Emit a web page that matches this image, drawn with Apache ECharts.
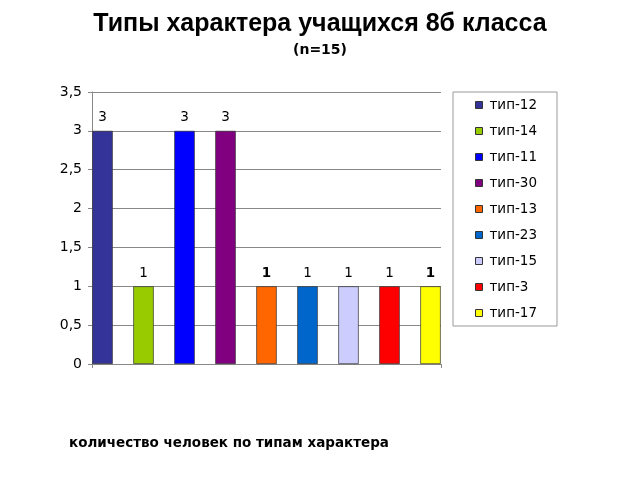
<!DOCTYPE html>
<html><head><meta charset="utf-8">
<script src="https://cdn.jsdelivr.net/npm/echarts@6/dist/echarts.min.js"></script>
<style>html,body{margin:0;padding:0;background:#fff}#c{width:640px;height:480px}</style>
</head><body><div id="c"></div>
<script>
const seriesNames = ['тип-12','тип-14','тип-11','тип-30','тип-13','тип-23','тип-15','тип-3','тип-17'];
const seriesValues = [3,1,3,3,1,1,1,1,1];
const seriesColors = ['#333399','#99CC00','#0000FF','#800080','#FF6600','#0066CC','#CCCCFF','#FF0000','#FFFF00'];
const boldLabel = [false,false,false,false,true,false,false,false,true];
const yTicks = [0,0.5,1,1.5,2,2.5,3,3.5];
const titleText = 'Типы характера учащихся 8б класса';
const subText = '(n=15)';
const xTitle = 'количество человек по типам характера';

const chart = echarts.init(document.getElementById('c'));
const font = 'Arial, "Liberation Sans", sans-serif';
const wide = '"DejaVu Sans", sans-serif';
chart.setOption({
  animation:false,
  backgroundColor:'#fff',
  title:[
    {text:titleText,left:'center',top:7,textStyle:{fontFamily:font,fontSize:25,fontWeight:'bold',color:'#000'}},
    {text:subText,left:'center',top:38,textStyle:{fontFamily:wide,fontSize:14,fontWeight:'bold',color:'#000'}},
    {text:xTitle,left:64,top:431,textStyle:{fontFamily:wide,fontSize:13.5,fontWeight:'bold',color:'#000'}}
  ],
  grid:{left:92,right:199,top:92,bottom:116,containLabel:false},
  legend:{
    orient:'vertical',left:453,top:92,
    data:seriesNames,
    itemWidth:7,itemHeight:7,itemGap:12,
    padding:[6,20,6,22],
    borderColor:'#999',borderWidth:1,
    icon:'rect',
    textStyle:{fontFamily:wide,fontSize:13.5,color:'#000',padding:[0,0,0,2]},
    itemStyle:{borderColor:'#333',borderWidth:1}
  },
  xAxis:{
    type:'category',data:[''],
    axisLine:{lineStyle:{color:'#888'}},
    axisTick:{show:true,length:4,lineStyle:{color:'#888'}},
    axisLabel:{show:false}
  },
  yAxis:{
    type:'value',min:0,max:3.5,interval:0.5,
    axisLine:{show:true,lineStyle:{color:'#888'}},
    axisTick:{show:true,length:4,lineStyle:{color:'#888'}},
    axisLabel:{fontFamily:wide,fontSize:14,color:'#000',margin:10,
      formatter:v=>String(v).replace('.',',')},
    splitLine:{lineStyle:{color:'#888',width:1}}
  },
  series:seriesNames.map((n,i)=>({
    name:n,type:'bar',data:[seriesValues[i]],
    barWidth:20.5,barGap:'100%',
    itemStyle:{color:seriesColors[i],borderColor:'#333',borderWidth:0.7},
    label:{show:true,position:'top',distance:6,fontFamily:wide,fontSize:13.5,color:'#000',
      fontWeight:boldLabel[i]?'bold':'normal'}
  }))
});
</script></body></html>
